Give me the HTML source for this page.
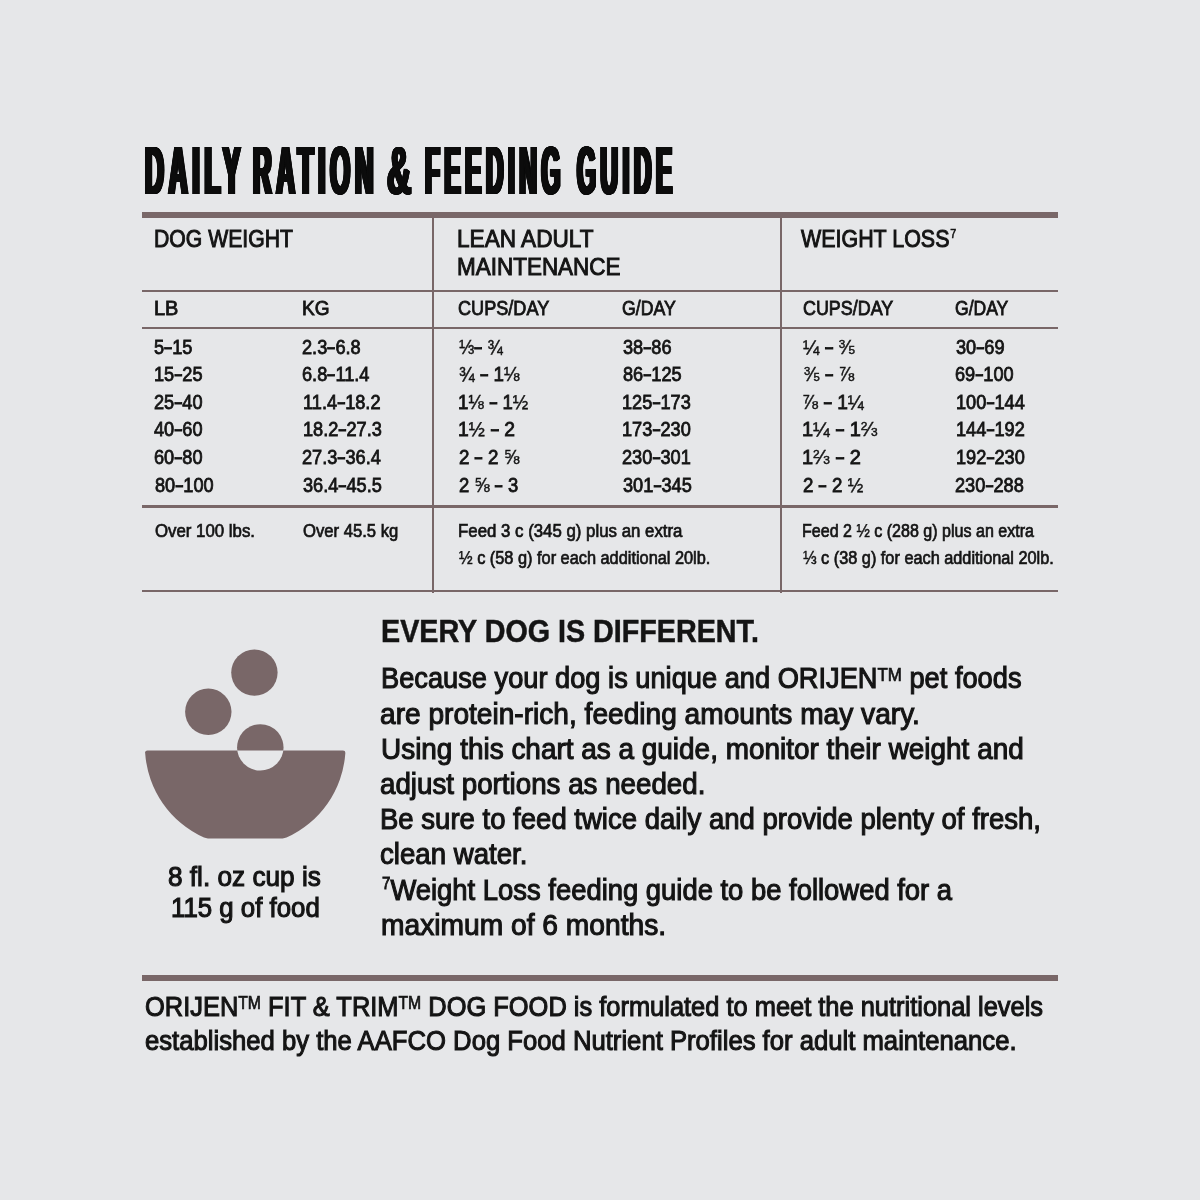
<!DOCTYPE html><html lang="en"><head><meta charset="utf-8"><title>Daily Ration &amp; Feeding Guide</title><style>
html,body{margin:0;padding:0}
h1,section,figure,article,footer{margin:0;padding:0;font:inherit;display:block}
body{width:1200px;height:1200px;background:#e6e7e9;position:relative;overflow:hidden;
 font-family:"Liberation Sans",sans-serif;color:#141414}
.t{position:absolute;white-space:nowrap;line-height:1;transform-origin:0 0;margin:0;font-weight:400;-webkit-text-stroke:0.8px #141414}
.med{-webkit-text-stroke:0.7px #141414}
.big{-webkit-text-stroke:1.1px #141414}
.h1t{-webkit-text-stroke:1.0px #141414}
.hd{-webkit-text-stroke:0.5px #141414}
.title{color:#0c0c0c;-webkit-text-stroke:0;text-shadow:-4.5px 0 0 #0c0c0c,-4.0px 0 0 #0c0c0c,-3.5px 0 0 #0c0c0c,-3.0px 0 0 #0c0c0c,-2.5px 0 0 #0c0c0c,-2.0px 0 0 #0c0c0c,-1.5px 0 0 #0c0c0c,-1.0px 0 0 #0c0c0c,-0.5px 0 0 #0c0c0c,0.5px 0 0 #0c0c0c,1.0px 0 0 #0c0c0c,1.5px 0 0 #0c0c0c,2.0px 0 0 #0c0c0c,2.5px 0 0 #0c0c0c,3.0px 0 0 #0c0c0c,3.5px 0 0 #0c0c0c,4.0px 0 0 #0c0c0c,4.5px 0 0 #0c0c0c}
.amp{text-shadow:-2.5px 0 0 #0c0c0c,-2.0px 0 0 #0c0c0c,-1.5px 0 0 #0c0c0c,-1.0px 0 0 #0c0c0c,-0.5px 0 0 #0c0c0c,0.5px 0 0 #0c0c0c,1.0px 0 0 #0c0c0c,1.5px 0 0 #0c0c0c,2.0px 0 0 #0c0c0c,2.5px 0 0 #0c0c0c,-2.8px 0 0 #0c0c0c,2.8px 0 0 #0c0c0c}
.rule{position:absolute;background:#796768}
.fr{-webkit-text-stroke:0.45px #141414}
.hy{display:inline-block;transform:scaleX(1.5);margin:0 1.1px}
.fn{font-size:60%;position:relative;top:-0.5em}
.fd{font-size:60%}
.sup7{-webkit-text-stroke:0.6px #141414;font-size:50%;position:relative;top:-0.75em;margin-left:1px}
.sup7b{-webkit-text-stroke:0.8px #141414;font-size:55%;position:relative;top:-0.66em}
.tm{-webkit-text-stroke:0.7px #141414;font-size:62%;position:relative;top:-0.42em}
svg{position:absolute;left:0;top:0}
</style></head><body>
<div class="rule" style="left:142px;top:212px;width:916px;height:6px"></div>
<div class="rule" style="left:142px;top:289.8px;width:916px;height:2.2px"></div>
<div class="rule" style="left:142px;top:326.6px;width:916px;height:2.2px"></div>
<div class="rule" style="left:142px;top:504.8px;width:916px;height:3px"></div>
<div class="rule" style="left:142px;top:589.7px;width:916px;height:2.8px"></div>
<div class="rule" style="left:142px;top:975.1px;width:916px;height:6.2px"></div>
<div class="rule" style="left:432.2px;top:217px;width:2px;height:375.5px"></div>
<div class="rule" style="left:779.8px;top:217px;width:2px;height:375.5px"></div>
<svg width="1200" height="1200" viewBox="0 0 1200 1200" aria-hidden="true">
<circle cx="254.4" cy="672.6" r="23.2" fill="#796768"/>
<circle cx="208.3" cy="711.8" r="23.2" fill="#796768"/>
<path d="M145,753 Q145,750.5 147.5,750.5 L343,750.5 Q345.5,750.5 345.35,753 A100.35,100.35 0 0 1 286.5,837.6 Q284.6,838.4 282.6,838.4 L207.9,838.4 Q205.9,838.4 204,837.6 A100.35,100.35 0 0 1 145.15,753 Z" fill="#796768"/>
<circle cx="260.3" cy="747.4" r="23.2" fill="#e6e7e9"/>
<path d="M237.31,750.5 A23.2,23.2 0 1 1 283.29,750.5 Z" fill="#796768"/>
</svg>
<h1 class="g-header">
<span class="t title" style="font-size:69px;font-weight:700;letter-spacing:12.8px;left:144.70px;top:135.60px;transform:scaleX(0.3783);">DAILY</span>
<span class="t title" style="font-size:69px;font-weight:700;letter-spacing:12.8px;left:252.68px;top:135.60px;transform:scaleX(0.3725);">RATION</span>
<span class="t title amp" style="font-size:69px;font-weight:700;letter-spacing:12.8px;left:387.03px;top:135.60px;transform:scaleX(0.4877);">&amp;</span>
<span class="t title" style="font-size:69px;font-weight:700;letter-spacing:12.8px;left:425.39px;top:135.60px;transform:scaleX(0.3530);">FEEDING</span>
<span class="t title" style="font-size:69px;font-weight:700;letter-spacing:12.8px;left:577.08px;top:135.60px;transform:scaleX(0.3529);">GUIDE</span>
</h1>
<section class="g-table">
<span class="t h1t" style="font-size:24.7px;left:154.07px;top:227.00px;transform:scaleX(0.8586);">DOG WEIGHT</span>
<span class="t h1t" style="font-size:24.7px;left:456.78px;top:227.00px;transform:scaleX(0.9154);">LEAN ADULT</span>
<span class="t h1t" style="font-size:24.7px;left:456.81px;top:254.50px;transform:scaleX(0.9101);">MAINTENANCE</span>
<span class="t h1t" style="font-size:24.7px;left:800.66px;top:227.00px;transform:scaleX(0.8680);">WEIGHT LOSS<span class="sup7">7</span></span>
<span class="t " style="font-size:19.6px;left:154.20px;top:298.50px;transform:scaleX(1.0176);">LB</span>
<span class="t " style="font-size:19.6px;left:302.29px;top:298.50px;transform:scaleX(0.9718);">KG</span>
<span class="t " style="font-size:19.6px;left:458.13px;top:298.50px;transform:scaleX(0.9243);">CUPS/DAY</span>
<span class="t " style="font-size:19.6px;left:622.25px;top:298.50px;transform:scaleX(0.9033);">G/DAY</span>
<span class="t " style="font-size:19.6px;left:803.17px;top:298.50px;transform:scaleX(0.9142);">CUPS/DAY</span>
<span class="t " style="font-size:19.6px;left:955.29px;top:298.50px;transform:scaleX(0.8951);">G/DAY</span>
<span class="t " style="font-size:19.6px;left:154.45px;top:337.50px;transform:scaleX(0.9280);">5<span class="hy">-</span>15</span>
<span class="t " style="font-size:19.6px;left:302.38px;top:337.50px;transform:scaleX(0.9280);">2.3<span class="hy">-</span>6.8</span>
<span class="t " style="font-size:19.6px;left:458.82px;top:337.50px;transform:scaleX(0.9362);"><span class="fr">⅓</span><span class="hy">-</span> <span class="fr">¾</span></span>
<span class="t " style="font-size:19.6px;left:622.80px;top:337.50px;transform:scaleX(0.9280);">38<span class="hy">-</span>86</span>
<span class="t " style="font-size:19.6px;left:802.99px;top:337.50px;transform:scaleX(0.9939);"><span class="fr">¼</span> <span class="hy">-</span> <span class="fr"><span class="fn">3</span>⁄<span class="fd">5</span></span></span>
<span class="t " style="font-size:19.6px;left:955.80px;top:337.50px;transform:scaleX(0.9280);">30<span class="hy">-</span>69</span>
<span class="t " style="font-size:19.6px;left:153.57px;top:365.10px;transform:scaleX(0.9280);">15<span class="hy">-</span>25</span>
<span class="t " style="font-size:19.6px;left:302.17px;top:365.10px;transform:scaleX(0.9280);">6.8<span class="hy">-</span>11.4</span>
<span class="t " style="font-size:19.6px;left:459.08px;top:365.10px;transform:scaleX(0.9576);"><span class="fr">¾</span> <span class="hy">-</span> 1<span class="fr">⅛</span></span>
<span class="t " style="font-size:19.6px;left:622.58px;top:365.10px;transform:scaleX(0.9280);">86<span class="hy">-</span>125</span>
<span class="t " style="font-size:19.6px;left:803.72px;top:365.10px;transform:scaleX(0.9579);"><span class="fr"><span class="fn">3</span>⁄<span class="fd">5</span></span> <span class="hy">-</span> <span class="fr">⅞</span></span>
<span class="t " style="font-size:19.6px;left:955.17px;top:365.10px;transform:scaleX(0.9280);">69<span class="hy">-</span>100</span>
<span class="t " style="font-size:19.6px;left:154.38px;top:392.70px;transform:scaleX(0.9280);">25<span class="hy">-</span>40</span>
<span class="t " style="font-size:19.6px;left:302.57px;top:392.70px;transform:scaleX(0.9280);">11.4<span class="hy">-</span>18.2</span>
<span class="t " style="font-size:19.6px;left:457.75px;top:392.70px;transform:scaleX(0.9482);">1<span class="fr">⅛</span> <span class="hy">-</span> 1<span class="fr">½</span></span>
<span class="t " style="font-size:19.6px;left:621.57px;top:392.70px;transform:scaleX(0.9280);">125<span class="hy">-</span>173</span>
<span class="t " style="font-size:19.6px;left:801.96px;top:392.70px;transform:scaleX(0.9774);"><span class="fr">⅞</span> <span class="hy">-</span> 1<span class="fr">¼</span></span>
<span class="t " style="font-size:19.6px;left:955.57px;top:392.70px;transform:scaleX(0.9280);">100<span class="hy">-</span>144</span>
<span class="t " style="font-size:19.6px;left:154.41px;top:420.30px;transform:scaleX(0.9280);">40<span class="hy">-</span>60</span>
<span class="t " style="font-size:19.6px;left:302.57px;top:420.30px;transform:scaleX(0.9280);">18.2<span class="hy">-</span>27.3</span>
<span class="t " style="font-size:19.6px;left:457.71px;top:420.30px;transform:scaleX(0.9855);">1<span class="fr">½</span> <span class="hy">-</span> 2</span>
<span class="t " style="font-size:19.6px;left:621.57px;top:420.30px;transform:scaleX(0.9280);">173<span class="hy">-</span>230</span>
<span class="t " style="font-size:19.6px;left:802.47px;top:420.30px;transform:scaleX(1.0192);">1<span class="fr">¼</span> <span class="hy">-</span> 1<span class="fr"><span class="fn">2</span>⁄<span class="fd">3</span></span></span>
<span class="t " style="font-size:19.6px;left:955.57px;top:420.30px;transform:scaleX(0.9280);">144<span class="hy">-</span>192</span>
<span class="t " style="font-size:19.6px;left:154.17px;top:447.90px;transform:scaleX(0.9280);">60<span class="hy">-</span>80</span>
<span class="t " style="font-size:19.6px;left:302.38px;top:447.90px;transform:scaleX(0.9280);">27.3<span class="hy">-</span>36.4</span>
<span class="t " style="font-size:19.6px;left:458.50px;top:447.90px;transform:scaleX(0.9539);">2 <span class="hy">-</span> 2 <span class="fr">⅝</span></span>
<span class="t " style="font-size:19.6px;left:622.38px;top:447.90px;transform:scaleX(0.9280);">230<span class="hy">-</span>301</span>
<span class="t " style="font-size:19.6px;left:802.45px;top:447.90px;transform:scaleX(1.0200);">1<span class="fr"><span class="fn">2</span>⁄<span class="fd">3</span></span> <span class="hy">-</span> 2</span>
<span class="t " style="font-size:19.6px;left:955.57px;top:447.90px;transform:scaleX(0.9280);">192<span class="hy">-</span>230</span>
<span class="t " style="font-size:19.6px;left:154.58px;top:475.50px;transform:scaleX(0.9280);">80<span class="hy">-</span>100</span>
<span class="t " style="font-size:19.6px;left:302.80px;top:475.50px;transform:scaleX(0.9280);">36.4<span class="hy">-</span>45.5</span>
<span class="t " style="font-size:19.6px;left:458.56px;top:475.50px;transform:scaleX(0.9380);">2 <span class="fr">⅝</span> <span class="hy">-</span> 3</span>
<span class="t " style="font-size:19.6px;left:622.80px;top:475.50px;transform:scaleX(0.9280);">301<span class="hy">-</span>345</span>
<span class="t " style="font-size:19.6px;left:803.31px;top:475.50px;transform:scaleX(0.9525);">2 <span class="hy">-</span> 2 <span class="fr">½</span></span>
<span class="t " style="font-size:19.6px;left:955.38px;top:475.50px;transform:scaleX(0.9280);">230<span class="hy">-</span>288</span>
<span class="t med" style="font-size:18.0px;left:154.60px;top:521.70px;transform:scaleX(0.9344);">Over 100 lbs.</span>
<span class="t med" style="font-size:18.0px;left:302.63px;top:521.70px;transform:scaleX(0.9248);">Over 45.5 kg</span>
<span class="t med" style="font-size:18.0px;left:458.41px;top:521.70px;transform:scaleX(0.9346);">Feed 3 c (345 g) plus an extra</span>
<span class="t med" style="font-size:18.0px;left:459.19px;top:549.20px;transform:scaleX(0.9068);"><span class="fr">½</span> c (58 g) for each additional 20lb.</span>
<span class="t med" style="font-size:18.0px;left:802.46px;top:521.70px;transform:scaleX(0.8918);">Feed 2 <span class="fr">½</span> c (288 g) plus an extra</span>
<span class="t med" style="font-size:18.0px;left:802.83px;top:549.20px;transform:scaleX(0.9048);"><span class="fr">⅓</span> c (38 g) for each additional 20lb.</span>
</section>
<figure class="g-caption">
<span class="t big" style="font-size:27.5px;left:167.73px;top:863.30px;transform:scaleX(0.9525);">8 fl. oz cup is</span>
<span class="t big" style="font-size:27.5px;left:170.54px;top:894.30px;transform:scaleX(0.9387);">115 g of food</span>
</figure>
<article class="g-info">
<span class="t hd" style="font-size:31.4px;font-weight:700;left:380.84px;top:616.20px;transform:scaleX(0.9142);">EVERY DOG IS DIFFERENT.</span>
<span class="t big" style="font-size:29.1px;left:380.56px;top:664.30px;transform:scaleX(0.9360);">Because your dog is unique and ORIJEN<span class="tm">TM</span> pet foods</span>
<span class="t big" style="font-size:29.1px;left:380.38px;top:699.50px;transform:scaleX(0.9659);">are protein-rich, feeding amounts may vary.</span>
<span class="t big" style="font-size:29.1px;left:380.80px;top:734.80px;transform:scaleX(0.9600);">Using this chart as a guide, monitor their weight and</span>
<span class="t big" style="font-size:29.1px;left:380.41px;top:770.00px;transform:scaleX(0.9535);">adjust portions as needed.</span>
<span class="t big" style="font-size:29.1px;left:380.43px;top:805.20px;transform:scaleX(0.9461);">Be sure to feed twice daily and provide plenty of fresh,</span>
<span class="t big" style="font-size:29.1px;left:380.40px;top:840.40px;transform:scaleX(0.9492);">clean water.</span>
<span class="t big" style="font-size:29.1px;left:381.65px;top:875.60px;transform:scaleX(0.9420);"><span class="sup7b">7</span>Weight Loss feeding guide to be followed for a</span>
<span class="t big" style="font-size:29.1px;left:381.39px;top:910.80px;transform:scaleX(0.9687);">maximum of 6 months.</span>
</article>
<footer class="g-footer">
<span class="t big" style="font-size:28.4px;left:144.59px;top:992.10px;transform:scaleX(0.8956);">ORIJEN<span class="tm">TM</span> FIT &amp; TRIM<span class="tm">TM</span> DOG FOOD is formulated to meet the nutritional levels</span>
<span class="t big" style="font-size:28.4px;left:145.01px;top:1025.70px;transform:scaleX(0.9039);">established by the AAFCO Dog Food Nutrient Profiles for adult maintenance.</span>
</footer>
</body></html>
